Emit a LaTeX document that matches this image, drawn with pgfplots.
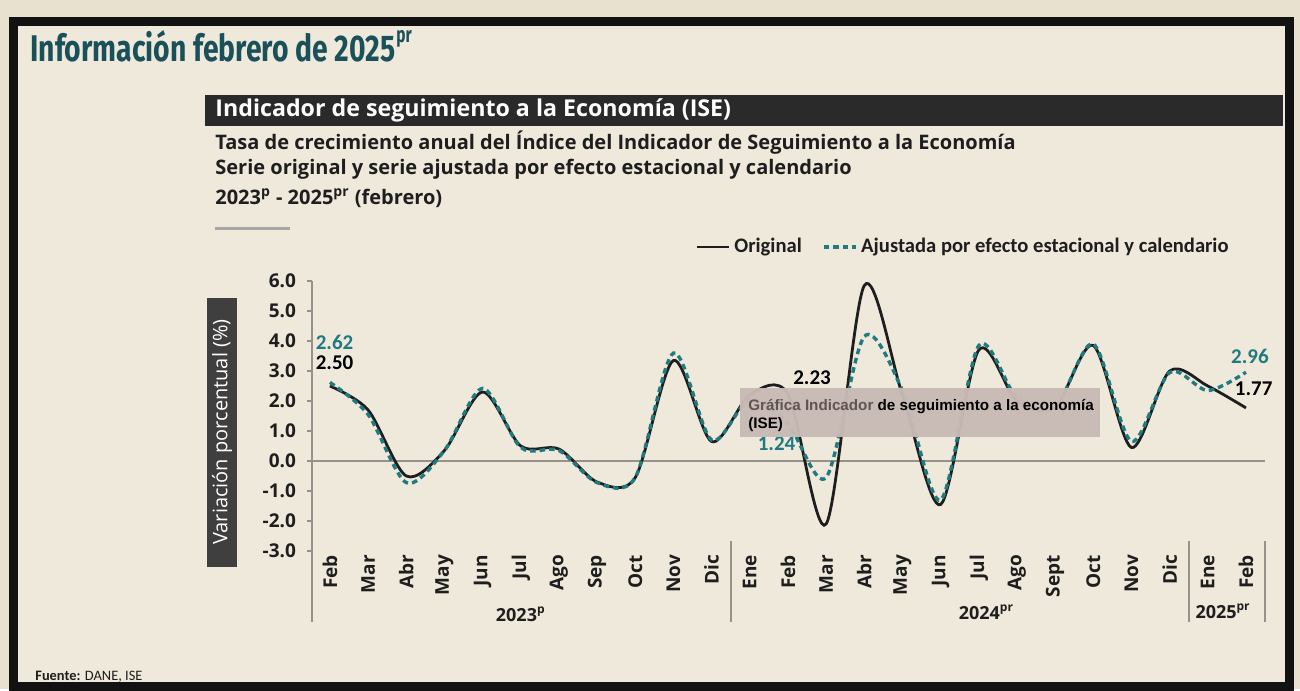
\documentclass[border=0pt]{standalone}
\usepackage{pgfplots}
\pgfplotsset{compat=1.18}
\usepackage{pgfplotstable}
\usepackage{graphicx}
\usepackage{fontspec}
\setmainfont{Open Sans}
\newfontfamily\calfont{Carlito}
\newfontfamily\libfont{Liberation Sans}
\newfontfamily\firafont{Fira Sans}

\definecolor{pagebg}{RGB}{233,225,208}
\definecolor{innerbg}{RGB}{239,233,219}
\definecolor{frame}{RGB}{18,18,18}
\definecolor{titleteal}{RGB}{26,80,90}
\definecolor{band}{RGB}{42,42,42}
\definecolor{dteal}{RGB}{32,122,128}
\definecolor{axisgray}{RGB}{150,145,138}
\definecolor{txt}{RGB}{30,30,30}
\definecolor{tipbg}{RGB}{200,186,180}
\definecolor{tipgray}{RGB}{95,85,85}

\pgfplotstableread{
x orig adj
0 2.50 2.62
1 1.70 1.55
2 -0.50 -0.72
3 0.35 0.35
4 2.30 2.42
5 0.50 0.45
6 0.40 0.35
7 -0.70 -0.72
8 -0.55 -0.55
9 3.35 3.60
10 0.65 0.70
11 2.20 2.05
12 2.23 1.24
13 -2.10 -0.55
14 5.85 4.15
15 2.20 2.35
16 -1.45 -1.30
17 3.70 3.85
18 2.00 2.10
19 1.80 1.80
20 3.85 3.90
21 0.45 0.65
22 3.00 2.95
23 2.50 2.35
24 1.77 2.96
}\isedata

\begin{document}
\begin{tikzpicture}[x=0.5pt,y=-0.5pt]
\fill[pagebg] (0,0) rectangle (1300,689);
\fill[innerbg] (17,25) rectangle (1285,682);
\draw[frame, line width=4.5pt] (13,21.5) rectangle (1289,686);

% title
\node[anchor=south west, inner sep=0, text=titleteal] at (30,63)
  {\resizebox{182.5pt}{15.5pt}{\firafont\bfseries Información febrero de 2025}};
\node[anchor=north west, inner sep=0, text=titleteal] at (396,30)
  {\scalebox{0.7}[1]{\firafont\bfseries\fontsize{11}{11}\selectfont pr}};

% band
\fill[band] (205,95) rectangle (1283,126);
\node[anchor=west, text=white, inner sep=0] at (215,110.5)
  {\fontsize{11.6}{12}\selectfont\bfseries Indicador de seguimiento a la Economía (ISE)};

% subtitles
\node[anchor=base west, inner sep=0, text=txt] at (215,149)
  {\fontsize{10}{10}\selectfont\bfseries Tasa de crecimiento anual del Índice del Indicador de Seguimiento a la Economía};
\node[anchor=base west, inner sep=0, text=txt] at (215,174)
  {\fontsize{10}{10}\selectfont\bfseries Serie original y serie ajustada por efecto estacional y calendario};
\node[anchor=base west, inner sep=0, text=txt] at (215,204)
  {\fontsize{10}{10}\selectfont\bfseries 2023\textsuperscript{p} - 2025\textsuperscript{pr} (febrero)};
\draw[gray!70, line width=1.5pt] (215,228) -- (290,228);

% y label box
\fill[band!90!white] (207,298) rectangle (237,567);
\node[rotate=90, text=white, inner sep=0] at (222,432)
  {\fontsize{10}{10}\selectfont Variación porcentual (\%)};

\coordinate (axSW) at (312,551);
\begin{axis}[
  at={(axSW)}, anchor=south west,
  scale only axis, width=479pt, height=135pt,
  xmin=-0.47, xmax=24.63, ymin=-3, ymax=6,
  clip=false,
  axis line style={draw=none},
  xtick={0,...,24},
  xticklabels={Feb,Mar,Abr,May,Jun,Jul,Ago,Sep,Oct,Nov,Dic,Ene,Feb,Mar,Abr,May,Jun,Jul,Ago,Sept,Oct,Nov,Dic,Ene,Feb},
  x tick label style={rotate=90, anchor=east, font=\bfseries\fontsize{9.5}{10}\selectfont, text=txt},
  xticklabel shift=-4pt,
  xtick style={draw=none},
  ytick={-3,-2,...,6},
  ytick pos=left,
  ytick style={draw=axisgray, line width=0.6pt},
  tick align=outside,
  major tick length=2.5pt,
  y tick label style={font=\bfseries\fontsize{9.5}{10}\selectfont, text=txt, xshift=-2pt},
  /pgf/number format/assume math mode=true,
  yticklabel style={/pgf/number format/.cd, fixed, fixed zerofill, precision=1},
  legend style={at={(axis description cs:0.400,1.126)}, anchor=west, draw=none, fill=none,
    inner sep=0pt, font=\calfont\bfseries\fontsize{10.3}{11}\selectfont, text=txt},
  legend columns=2,
  legend cell align=left,
  /tikz/every even column/.append style={column sep=8pt},
  legend image code/.code={\draw[#1] (0pt,0pt) -- (16pt,0pt);},
]
\draw[axisgray, line width=0.8pt] (axis cs:-0.47,0) -- (axis cs:24.5,0);
\draw[axisgray, line width=0.8pt] (axis cs:-0.47,6) -- (axis cs:-0.47,-5.35);
\draw[axisgray, line width=0.8pt] (axis cs:10.5,-2.65) -- (axis cs:10.5,-5.35);
\draw[axisgray, line width=0.8pt] (axis cs:22.5,-2.65) -- (axis cs:22.5,-5.35);
\draw[axisgray, line width=0.8pt] (axis cs:24.5,-2.65) -- (axis cs:24.5,-5.35);

\addplot[txt, line width=1.4pt, smooth] table[x=x,y=orig]{\isedata};
\addlegendentry{Original}
\addplot[dteal, line width=1.7pt, dash pattern=on 2.8pt off 2pt, smooth] table[x=x,y=adj]{\isedata};
\addlegendentry{Ajustada por efecto estacional y calendario}

\node[anchor=west, inner sep=0, text=dteal, font=\calfont\bfseries\fontsize{10.5}{11}\selectfont] at (axis cs:-0.38,3.97) {2.62};
\node[anchor=west, inner sep=0, text=black, font=\calfont\bfseries\fontsize{10.5}{11}\selectfont] at (axis cs:-0.38,3.27) {2.50};
\node[anchor=west, inner sep=0, text=black, font=\calfont\bfseries\fontsize{10.5}{11}\selectfont] at (axis cs:12.13,2.77) {2.23};
\node[anchor=west, inner sep=0, text=dteal, font=\calfont\bfseries\fontsize{10.5}{11}\selectfont] at (axis cs:11.2,0.58) {1.24};
\node[anchor=west, inner sep=0, text=dteal, font=\calfont\bfseries\fontsize{10.5}{11}\selectfont] at (axis cs:23.6,3.5) {2.96};
\node[anchor=west, inner sep=0, text=black, font=\calfont\bfseries\fontsize{10.5}{11}\selectfont] at (axis cs:23.7,2.42) {1.77};

\node[text=txt, font=\bfseries\fontsize{9}{10}\selectfont] at (axis cs:5,-5.1) {2023\textsuperscript{p}};
\node[text=txt, font=\bfseries\fontsize{9}{10}\selectfont] at (axis cs:17.2,-5.05) {2024\textsuperscript{pr}};
\node[text=txt, font=\bfseries\fontsize{9}{10}\selectfont] at (axis cs:23.4,-5.0) {2025\textsuperscript{pr}};
\end{axis}

% tooltip overlay
\fill[tipbg, opacity=0.97] (740,388) rectangle (1100,437);
\node[anchor=base west, inner sep=0] at (748,410)
  {\libfont\fontsize{7.6}{8}\selectfont\bfseries\textcolor{tipgray}{Gráfica Indicador} de seguimiento a la economía};
\node[anchor=base west, inner sep=0] at (748,428)
  {\libfont\fontsize{7.6}{8}\selectfont\bfseries (ISE)};

% source
\node[anchor=base west, inner sep=0, text=txt] at (35,680)
  {\calfont\fontsize{7.2}{7}\selectfont\textbf{Fuente:} DANE, ISE};
\end{tikzpicture}
\end{document}
